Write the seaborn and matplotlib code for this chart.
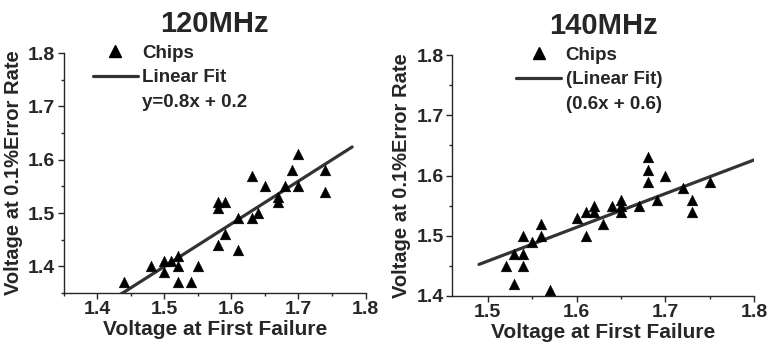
import numpy as np
import pandas as pd
import seaborn as sns
import matplotlib.pyplot as plt
from matplotlib.lines import Line2D
from matplotlib.ticker import MultipleLocator

sns.set_style("ticks")
plt.rcParams['font.family'] = ['Liberation Sans', 'DejaVu Sans']
plt.rcParams['font.weight'] = 'bold'

# ---- data: 120MHz ----
x120 = [1.44, 1.48, 1.50, 1.50, 1.51, 1.52, 1.52, 1.52, 1.54, 1.55,
        1.58, 1.58, 1.59, 1.58, 1.59, 1.61, 1.61, 1.63, 1.63, 1.64,
        1.65, 1.67, 1.67, 1.68, 1.69, 1.70, 1.70, 1.74, 1.74]
y120 = [1.37, 1.40, 1.41, 1.39, 1.41, 1.42, 1.40, 1.37, 1.37, 1.40,
        1.52, 1.51, 1.52, 1.44, 1.46, 1.49, 1.43, 1.57, 1.49, 1.50,
        1.55, 1.53, 1.52, 1.55, 1.58, 1.61, 1.55, 1.58, 1.54]
fit120 = (0.8, 0.2)
fitx120 = [1.43, 1.78]

# ---- data: 140MHz ----
x140 = [1.52, 1.53, 1.53, 1.54, 1.54, 1.54, 1.55, 1.56, 1.56, 1.57,
        1.60, 1.61, 1.61, 1.62, 1.62, 1.63, 1.64, 1.65, 1.65, 1.65,
        1.67, 1.68, 1.68, 1.68, 1.69, 1.70, 1.72, 1.73, 1.73, 1.75]
y140 = [1.45, 1.47, 1.42, 1.50, 1.47, 1.45, 1.49, 1.52, 1.50, 1.41,
        1.53, 1.54, 1.50, 1.55, 1.54, 1.52, 1.55, 1.56, 1.55, 1.54,
        1.55, 1.63, 1.61, 1.59, 1.56, 1.60, 1.58, 1.56, 1.54, 1.59]
fit140 = (0.56, 0.618)
fitx140 = [1.49, 1.80]

panels = [
    dict(title="120MHz", x=x120, y=y120, fit=fit120, fitx=fitx120,
         labels=["Chips", "Linear Fit", "y=0.8x + 0.2"],
         rect=[0.083, 0.160, 0.393, 0.688], xlim=(1.35, 1.8), ylim=(1.35, 1.8),
         xticks=[1.4, 1.5, 1.6, 1.7, 1.8], yticks=[1.4, 1.5, 1.6, 1.7, 1.8],
         leg=(0.096, 1.035)),
    dict(title="140MHz", x=x140, y=y140, fit=fit140, fitx=fitx140,
         labels=["Chips", "(Linear Fit)", "(0.6x + 0.6)"],
         rect=[0.589, 0.152, 0.393, 0.690], xlim=(1.46, 1.8), ylim=(1.4, 1.8),
         xticks=[1.5, 1.6, 1.7, 1.8], yticks=[1.4, 1.5, 1.6, 1.7, 1.8],
         leg=(0.211, 1.035)),
]

fig = plt.figure(figsize=(7.68, 3.49), dpi=100)

for p in panels:
    ax = fig.add_axes(p["rect"])
    sns.scatterplot(x=p["x"], y=p["y"], marker="^", s=60, color="black",
                    edgecolor="black", linewidth=0.3, ax=ax, zorder=3)
    fx = np.array(p["fitx"])
    fy = p["fit"][0] * fx + p["fit"][1]
    sns.lineplot(x=fx, y=fy, color="#333333", linewidth=2.3, ax=ax, zorder=2)

    ax.set_xlim(*p["xlim"])
    ax.set_ylim(*p["ylim"])
    ax.set_xticks(p["xticks"])
    ax.set_yticks(p["yticks"])
    ax.xaxis.set_minor_locator(MultipleLocator(0.05))
    ax.yaxis.set_minor_locator(MultipleLocator(0.05))
    ax.tick_params(which="major", direction="out", length=4, width=1,
                   labelsize=14, pad=2)
    ax.tick_params(which="minor", direction="out", length=2.5, width=1)
    for lab in ax.get_xticklabels() + ax.get_yticklabels():
        lab.set_fontweight("bold")
    sns.despine(ax=ax)
    ax.spines["left"].set_linewidth(1)
    ax.spines["bottom"].set_linewidth(1)

    ax.set_xlabel("Voltage at First Failure", fontsize=15, fontweight="bold",
                  labelpad=1)
    ax.set_ylabel("Voltage at 0.1%Error Rate", fontsize=14.5, fontweight="bold",
                  labelpad=4)
    ax.set_title(p["title"], fontsize=21, fontweight="bold", pad=15)

    handles = [
        Line2D([], [], marker="^", linestyle="none", color="black",
               markersize=8),
        Line2D([], [], color="#333333", linewidth=2.3),
        Line2D([], [], linestyle="none"),
    ]
    leg = ax.legend(handles, p["labels"], loc="upper left",
                    bbox_to_anchor=p["leg"], frameon=False, borderpad=0,
                    borderaxespad=0, handlelength=2.4, handletextpad=0.25,
                    labelspacing=0.4, prop=dict(size=13.5, weight="bold"))

fig.savefig("out.png", dpi=100)
